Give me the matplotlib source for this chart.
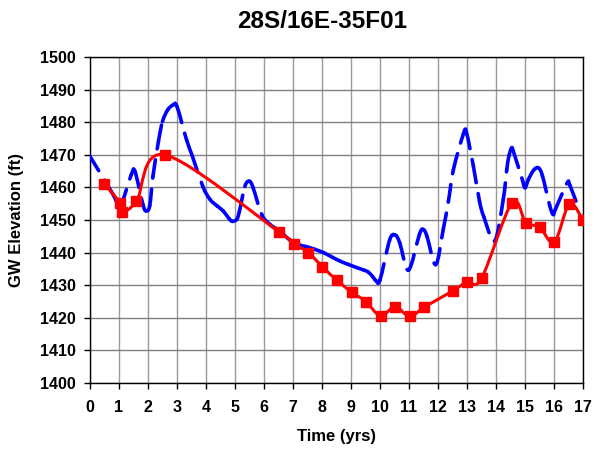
import matplotlib
matplotlib.use("Agg")
import matplotlib.pyplot as plt
import numpy as np
from matplotlib.path import Path
from matplotlib.patches import PathPatch
from matplotlib.collections import PatchCollection

plt.rcParams["font.family"] = ["Liberation Sans", "DejaVu Sans"]
plt.rcParams["font.weight"] = "bold"
plt.rcParams["lines.scale_dashes"] = False

title = "28S/16E-35F01"
x_label = "Time (yrs)"
y_label = "GW Elevation (ft)"

# observed heads (red squares)
obs_time = [0.5, 1.04, 1.1, 1.6, 2.58, 6.53, 7.03, 7.53, 8.01, 8.5, 9.02, 9.51,
            10.02, 10.52, 11.03, 11.53, 12.5, 13.0, 13.5, 14.55, 15.03, 15.5,
            16.01, 16.53, 17.0]
obs_elev = [1461.0, 1455.2, 1452.5, 1455.7, 1470.0, 1446.3, 1442.7, 1440.0,
            1435.7, 1431.6, 1427.9, 1425.0, 1420.6, 1423.4, 1420.4, 1423.3,
            1428.2, 1431.0, 1432.1, 1455.3, 1449.2, 1447.8, 1443.2, 1454.9,
            1450.0]

# simulated heads (blue dashed)
sim_time = [0.0, 0.55, 0.8, 1.05, 1.42, 1.55, 1.83, 1.94, 2.06, 2.17, 2.36,
            2.5, 2.68, 2.87, 3.0, 3.33, 3.53, 3.89, 4.14, 4.4, 4.6, 4.78, 4.9,
            5.06, 5.15, 5.34, 5.49, 5.62, 5.92, 6.21, 6.55, 6.9, 7.24, 7.47,
            7.75, 8.05, 8.35, 8.62, 8.9, 9.2, 9.45, 9.6, 9.75, 9.86, 10.0,
            10.33, 10.52, 10.68, 10.98, 11.36, 11.49, 11.62, 11.92, 12.18,
            12.36, 12.53, 12.88, 12.98, 13.22, 13.43, 13.58, 13.95, 14.25,
            14.37, 14.45, 14.54, 14.6, 14.89, 15.0, 15.12, 15.3, 15.46, 15.6,
            15.85, 15.97, 16.05, 16.45, 16.55, 16.85]
sim_elev = [1469.5, 1461.5, 1457.8, 1454.6, 1463.8, 1464.9, 1454.6, 1452.8,
            1454.4, 1463.4, 1474.1, 1480.2, 1483.8, 1485.3, 1484.8, 1474.6,
            1469.6, 1460.3, 1456.3, 1454.2, 1452.7, 1450.6, 1449.6, 1450.2,
            1452.6, 1460.3, 1461.9, 1460.0, 1451.7, 1448.6, 1446.6, 1443.8,
            1442.3, 1441.8, 1441.0, 1440.0, 1438.6, 1437.4, 1436.4, 1435.4,
            1434.6, 1434.0, 1432.6, 1431.4, 1431.6, 1443.8, 1445.4, 1443.0,
            1434.6, 1445.6, 1447.1, 1445.0, 1436.3, 1447.1, 1455.8, 1465.4,
            1476.5, 1476.9, 1466.5, 1455.8, 1451.0, 1443.5, 1456.3, 1465.4,
            1469.8, 1472.1, 1471.0, 1462.9, 1459.9, 1462.5, 1465.3, 1466.0,
            1463.6, 1454.5, 1451.7, 1453.3, 1461.3, 1460.6, 1453.5]


def bezier_pieces(x, y):
    # Excel-like smoothed line: one cubic Bezier per pair of points
    pts = np.column_stack([x, y]).astype(float)
    n = len(pts)
    pieces = []
    for i in range(n - 1):
        p0 = pts[max(i - 1, 0)]
        p1 = pts[i]
        p2 = pts[i + 1]
        p3 = pts[min(i + 2, n - 1)]
        c1 = p1 + (p2 - p0) / 6.0
        c2 = p2 - (p3 - p1) / 6.0
        pieces.append([p1, c1, c2, p2])
    return pieces


fig = plt.figure(figsize=(6.03, 4.5), dpi=100)
ax = fig.add_axes([90 / 603, 1 - 383 / 450, 493 / 603, 326 / 450])

# blue: each segment its own path so the dash pattern restarts per segment
codes = [Path.MOVETO, Path.CURVE4, Path.CURVE4, Path.CURVE4]
sim_patches = [PathPatch(Path(p, codes)) for p in bezier_pieces(sim_time, sim_elev)]
sim_coll = PatchCollection(sim_patches, facecolor="none", edgecolor="#0000ff",
                           linewidth=2.6, linestyle=(0, (12, 8)), zorder=3)
sim_coll.set_capstyle("round")
ax.add_collection(sim_coll)

# red: one continuous smooth path + square markers
verts, vcodes = [], []
for k, p in enumerate(bezier_pieces(obs_time, obs_elev)):
    if k == 0:
        verts.append(p[0])
        vcodes.append(Path.MOVETO)
    verts.extend(p[1:])
    vcodes.extend([Path.CURVE4] * 3)
ax.add_patch(PathPatch(Path(verts, vcodes), fill=False, edgecolor="#ff0000",
                       linewidth=2.2, zorder=4, joinstyle="round"))
ax.plot(obs_time, obs_elev, linestyle="none", marker="s", markersize=6.5,
        color="#ff0000", zorder=5)

ax.set_xlim(0, 17)
ax.set_ylim(1400, 1500)
ax.set_xticks(range(0, 18))
ax.set_yticks(range(1400, 1501, 10))
ax.grid(True, which="major", axis="y", color="#808080", linewidth=1)
ax.grid(True, which="major", axis="x", color="#9a9a9a", linewidth=1)
ax.set_axisbelow(True)
for s in ax.spines.values():
    s.set_color("black")
    s.set_linewidth(1)
ax.tick_params(direction="out", length=4, width=1)
ax.tick_params(axis="x", pad=8)
ax.tick_params(axis="y", pad=6)
tick_family = ["Liberation Sans Narrow", "Liberation Sans", "DejaVu Sans"]
for lab in ax.get_xticklabels() + ax.get_yticklabels():
    lab.set_fontfamily(tick_family)
    lab.set_fontsize(11.5)
    lab.set_fontweight("bold")

ax.set_xlabel(x_label, fontsize=12, fontweight="bold", labelpad=10)
ax.set_ylabel(y_label, fontsize=12, fontweight="bold", labelpad=12)
fig.text(322 / 603, 1 - 21 / 450, title, ha="center", va="center",
         fontsize=17.5, fontweight="bold")

fig.savefig("out.png", dpi=100)
